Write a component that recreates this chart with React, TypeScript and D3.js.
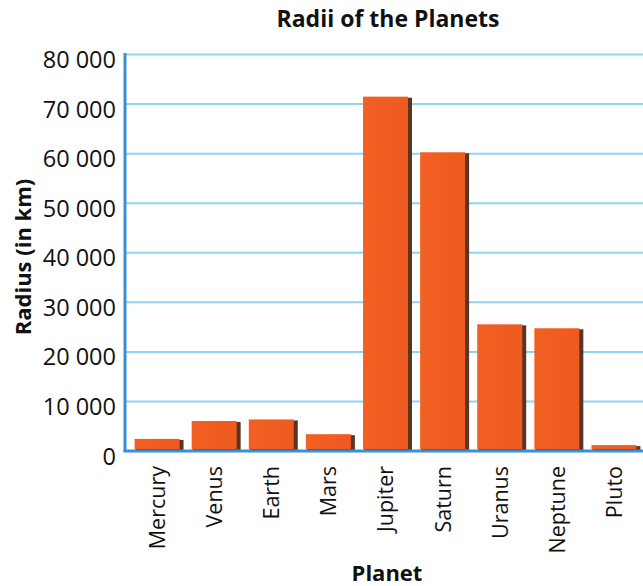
import React from "react";
import * as d3 from "d3";

const planets = ["Mercury", "Venus", "Earth", "Mars", "Jupiter", "Saturn", "Uranus", "Neptune", "Pluto"];
const radii = [2440, 6052, 6371, 3390, 71492, 60268, 25559, 24764, 1188];
const yTicks = [0, 10000, 20000, 30000, 40000, 50000, 60000, 70000, 80000];

const W = 643;
const H = 586;
const FONT = "'Open Sans', 'Noto Sans', sans-serif";

export default function App() {
  const x = d3.scaleBand<string>().domain(planets).range([130, 644]).paddingInner(0.16).paddingOuter(0.08);
  const y = d3.scaleLinear().domain([0, 80000]).range([451, 54.5]);
  const fmt = (v: number) => d3.format(",")(v).replace(/,/g, " ");
  const x0 = 125;

  return (
    <svg width={W} height={H} style={{ position: "absolute", left: 0, top: 0, background: "#fff" }} fontFamily={FONT}>
      <defs>
        <linearGradient id="barShade" x1="0" x2="1" y1="0" y2="0">
          <stop offset="0" stopColor="#f26024" />
          <stop offset="1" stopColor="#ee5a1f" />
        </linearGradient>
      </defs>
      <text x={388} y={27} textAnchor="middle" fontWeight={700} fontSize={23} fill="#111">
        Radii of the Planets
      </text>

      {/* gridlines */}
      {yTicks.slice(1).map((t) => (
        <line key={t} x1={x0} x2={W} y1={y(t)} y2={y(t)} stroke="#8fd4f2" strokeWidth={2} />
      ))}

      {/* bars with a dark edge on the right and bottom */}
      {planets.map((p, i) => {
        const bx = x(p)!;
        const bw = x.bandwidth();
        const top = y(radii[i]);
        const h = y(0) - top;
        return (
          <g key={p}>
            <rect x={bx + 1} y={top + 1} width={bw} height={h - 1} fill="#5a3522" />
            <rect x={bx} y={top} width={bw - 3} height={h - 2} fill="url(#barShade)" />
          </g>
        );
      })}

      {/* axes */}
      <line x1={x0} x2={x0} y1={53} y2={452} stroke="#3a90d4" strokeWidth={3} />
      <line x1={x0 - 1.5} x2={W} y1={451} y2={451} stroke="#3a90d4" strokeWidth={3} />

      {yTicks.map((t) => (
        <text key={t} x={116} y={y(t) + 13.5} textAnchor="end" fontSize={23.5} fill="#111">
          {fmt(t)}
        </text>
      ))}

      {planets.map((p) => (
        <text
          key={p}
          transform={`translate(${x(p)! + x.bandwidth() / 2},466) rotate(-90)`}
          textAnchor="end"
          dy="0.3em"
          fontSize={21.5}
          fill="#111"
        >
          {p}
        </text>
      ))}

      <text x={387} y={581} textAnchor="middle" fontWeight={700} fontSize={22} fill="#111">
        Planet
      </text>
      <text transform="translate(31,257) rotate(-90)" textAnchor="middle" fontWeight={700} fontSize={22} fill="#111">
        Radius (in km)
      </text>
    </svg>
  );
}
